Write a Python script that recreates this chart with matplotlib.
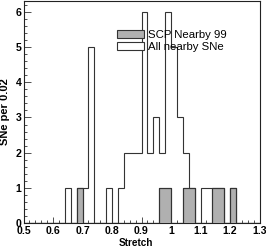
import matplotlib
matplotlib.use("Agg")
import matplotlib.pyplot as plt
import numpy as np
from matplotlib.ticker import MultipleLocator, FixedLocator
from matplotlib.patches import Patch

plt.rcParams['font.family'] = ['Liberation Sans', 'DejaVu Sans']

# bin edges: 0.50 .. 1.30 in steps of 0.02
bin_start = 0.50
bin_width = 0.02
n_bins = 40

all_nearby = [0, 0, 0, 0, 0, 0, 0, 1, 0, 1,
              1, 5, 0, 0, 1, 0, 1, 2, 2, 2,
              6, 2, 3, 2, 6, 5, 3, 2, 1, 0,
              1, 1, 1, 1, 0, 1, 0, 0, 0, 0]
scp_nearby99 = [0, 0, 0, 0, 0, 0, 0, 0, 0, 1,
                0, 0, 0, 0, 0, 0, 0, 0, 0, 0,
                0, 0, 0, 1, 1, 0, 0, 1, 1, 0,
                0, 0, 1, 1, 0, 1, 0, 0, 0, 0]
xtick_labels = ['0.5', '0.6', '0.7', '0.8', '0.9', '1', '1.1', '1.2', '1.3']
ytick_labels = ['0', '1', '2', '3', '4', '5', '6']

edges = bin_start + bin_width * np.arange(n_bins + 1)

fig = plt.figure(figsize=(2.66, 2.48), dpi=100)
ax_l, ax_r, ax_b, ax_t = 23.5, 259.5, 223.0, 0.7
ax = fig.add_axes([ax_l/266, 1 - ax_b/248, (ax_r-ax_l)/266, (ax_b-ax_t)/248])
aw, ah = ax_r - ax_l, ax_b - ax_t

edge_col = '#333333'
ax.stairs(all_nearby, edges, fill=False, edgecolor=edge_col, linewidth=0.8, zorder=2)
ax.stairs(scp_nearby99, edges, fill=True, facecolor='#b0b0b0', edgecolor=edge_col,
          linewidth=0.8, zorder=3)
ax.stairs(scp_nearby99, edges, fill=False, edgecolor=edge_col, linewidth=0.8, zorder=4)

ax.set_xlim(0.5, 1.3)
ax.set_ylim(0, 6.32)

xt = [float(s) for s in xtick_labels]
ax.xaxis.set_major_locator(FixedLocator(xt))
ax.set_xticklabels(xtick_labels)
ax.xaxis.set_minor_locator(MultipleLocator(0.02))
yt = [float(s) for s in ytick_labels]
ax.yaxis.set_major_locator(FixedLocator(yt))
ax.set_yticklabels(ytick_labels)
ax.yaxis.set_minor_locator(MultipleLocator(0.2))

ax.tick_params(which='both', direction='in', top=False, right=False,
               width=0.6, color='#333333')
ax.tick_params(axis='x', which='major', length=4, pad=2.2)
ax.tick_params(axis='x', which='minor', length=2.2)
ax.tick_params(axis='y', which='major', length=5, pad=1.6)
ax.tick_params(axis='y', which='minor', length=2.5)
for lab in ax.get_xticklabels() + ax.get_yticklabels():
    lab.set_fontsize(7.6)
    lab.set_fontweight('bold')

for s in ax.spines.values():
    s.set_linewidth(0.8)
    s.set_color('#222222')

ax.set_xlabel('Stretch', fontsize=7.2, fontweight='bold')
ax.xaxis.set_label_coords((136 - ax_l) / aw, (ax_b - 237.5) / ah)
ax.set_ylabel('SNe per 0.02', fontsize=8, fontweight='bold')
ax.yaxis.set_label_coords((10.5 - ax_l) / aw, 0.5)

handles = [Patch(facecolor='#b0b0b0', edgecolor=edge_col, linewidth=0.8, label='SCP Nearby 99'),
           Patch(facecolor='white', edgecolor=edge_col, linewidth=0.8, label='All nearby SNe')]
leg = ax.legend(handles=handles, loc='upper left',
                bbox_to_anchor=((117 - ax_l) / aw, (ax_b - 29.5) / ah),
                frameon=False, fontsize=8.2, handlelength=2.35, handleheight=0.7,
                handletextpad=0.4, labelspacing=0.2, borderaxespad=0, borderpad=0)

fig.savefig('out.png', dpi=100)
